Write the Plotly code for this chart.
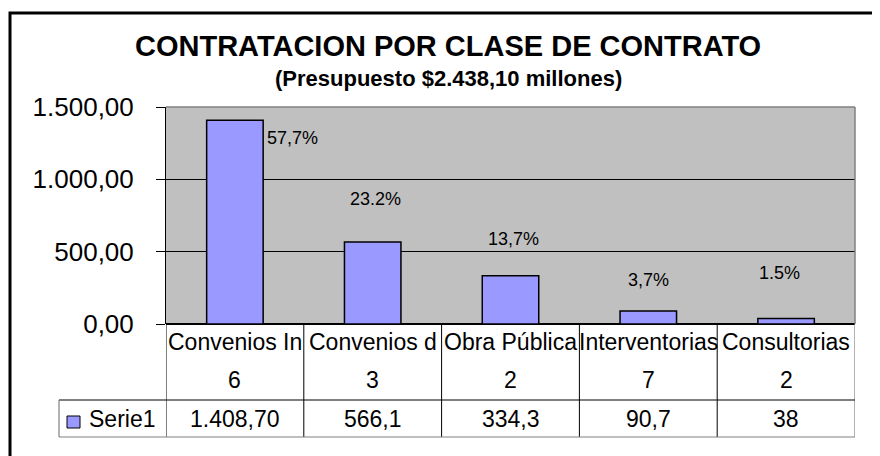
import plotly.graph_objects as go

categories = ["Convenios In", "Convenios d", "Obra Pública", "Interventorias", "Consultorias"]
counts = ["6", "3", "2", "7", "2"]
values = [1408.70, 566.1, 334.3, 90.7, 38]
value_labels = ["1.408,70", "566,1", "334,3", "90,7", "38"]
pct_labels = ["57,7%", "23.2%", "13,7%", "3,7%", "1.5%"]
series_name = "Serie1"
y_tickvals = [0, 500, 1000, 1500]
y_ticktext = ["0,00", "500,00", "1.000,00", "1.500,00"]

FONT = "Liberation Sans, Arial, sans-serif"
OFF = 8  # page body margin
W, H = 880 - OFF, 456 - OFF
L, R, T, B = 166 - OFF, 25, 107 - OFF, 132
PW, PH = W - L - R, H - T - B


def px(x):
    # screen pixel x -> paper
    return (x - OFF - L) / PW


def py(y):
    # screen pixel y -> paper
    return (H - B - (y - OFF)) / PH


x_idx = list(range(len(categories)))

fig = go.Figure()
fig.add_trace(go.Bar(
    x=x_idx, y=values, name=series_name,
    marker=dict(color="#9999FF", line=dict(color="black", width=1.5)),
    width=0.41, showlegend=False, hoverinfo="skip",
))

annotations = []
# title
annotations.append(dict(text="<b>CONTRATACION POR CLASE DE CONTRATO</b>", x=px(448), y=py(46),
                        xref="paper", yref="paper", showarrow=False,
                        font=dict(family=FONT, size=29, color="black"), xanchor="center", yanchor="middle"))
annotations.append(dict(text="<b>(Presupuesto $2.438,10 millones)</b>", x=px(448), y=py(78),
                        xref="paper", yref="paper", showarrow=False,
                        font=dict(family=FONT, size=22, color="black"), xanchor="center", yanchor="middle"))

# percent labels (pixel offsets relative to bar top)
pct_style = [dict(xa="left", dx=0.215, yshift=-18),
             dict(xa="center", dx=0.02, yshift=43),
             dict(xa="center", dx=0.02, yshift=37),
             dict(xa="center", dx=0.0, yshift=31),
             dict(xa="center", dx=-0.05, yshift=46)]
for i, (v, lab) in enumerate(zip(values, pct_labels)):
    s = pct_style[i]
    annotations.append(dict(text=lab, x=i + s["dx"], y=v, xref="x", yref="y", showarrow=False,
                            xanchor=s["xa"], yanchor="middle", yshift=s["yshift"],
                            font=dict(family=FONT, size=18, color="black")))

# data table
for i in x_idx:
    annotations.append(dict(text=categories[i], x=i, y=py(341.5), xref="x", yref="paper",
                            showarrow=False, xanchor="center", yanchor="middle",
                            font=dict(family=FONT, size=23, color="black")))
    annotations.append(dict(text=counts[i], x=i, y=py(380), xref="x", yref="paper",
                            showarrow=False, xanchor="center", yanchor="middle",
                            font=dict(family=FONT, size=23, color="black")))
    annotations.append(dict(text=value_labels[i], x=i, y=py(419), xref="x", yref="paper",
                            showarrow=False, xanchor="center", yanchor="middle",
                            font=dict(family=FONT, size=23, color="black")))
annotations.append(dict(text=series_name, x=px(87), y=py(419), xref="paper", yref="paper",
                        showarrow=False, xanchor="left", yanchor="middle",
                        font=dict(family=FONT, size=23, color="black")))

shapes = []
# outer chart border
shapes.append(dict(type="rect", xref="paper", yref="paper", x0=px(10), x1=px(890), y0=py(470), y1=py(13),
                   line=dict(color="black", width=3), layer="below"))
# plot area top and right border
shapes.append(dict(type="line", xref="paper", yref="paper", x0=0, x1=1, y0=1, y1=1,
                   line=dict(color="#808080", width=1.5)))
shapes.append(dict(type="line", xref="paper", yref="paper", x0=1, x1=1, y0=0, y1=1,
                   line=dict(color="#808080", width=1.5)))
# table lines
for xb in [-0.5, 0.5, 1.5, 2.5, 3.5]:
    shapes.append(dict(type="line", xref="x", yref="paper", x0=xb, x1=xb, y0=py(437), y1=0,
                       line=dict(color="black", width=1)))
shapes.append(dict(type="line", xref="x", yref="paper", x0=4.5, x1=4.5, y0=py(437), y1=0,
                   line=dict(color="#808080", width=1.2)))
shapes.append(dict(type="line", xref="paper", yref="paper", x0=px(59), x1=1, y0=py(400), y1=py(400),
                   line=dict(color="black", width=1)))
shapes.append(dict(type="line", xref="paper", yref="paper", x0=px(59), x1=1, y0=py(437), y1=py(437),
                   line=dict(color="#808080", width=1.2)))
shapes.append(dict(type="line", xref="paper", yref="paper", x0=px(59), x1=px(59), y0=py(437), y1=py(400),
                   line=dict(color="#808080", width=1.2)))
# legend key
shapes.append(dict(type="rect", xref="paper", yref="paper", x0=px(67), x1=px(80), y0=py(428), y1=py(416),
                   fillcolor="#9999FF", line=dict(color="black", width=1)))

fig.update_layout(
    width=W, height=H,
    margin=dict(l=L, r=R, t=T, b=B, pad=0),
    paper_bgcolor="white",
    plot_bgcolor="#C0C0C0",
    showlegend=False,
    bargap=0.59,
    font=dict(family=FONT, color="black"),
    xaxis=dict(range=[-0.5, 4.5], showticklabels=False, ticks="", showgrid=False,
               zeroline=False, showline=False, fixedrange=True),
    yaxis=dict(range=[0, 1500], tickvals=y_tickvals, ticktext=y_ticktext,
               ticks="outside", ticklen=9, tickcolor="black", tickwidth=1,
               ticklabelstandoff=17,
               showline=True, linecolor="black", linewidth=1,
               showgrid=True, gridcolor="black", gridwidth=1,
               zeroline=True, zerolinecolor="black", zerolinewidth=1.5,
               tickfont=dict(family=FONT, size=26, color="black"), fixedrange=True),
    annotations=annotations,
    shapes=shapes,
)

fig.write_html("out.html")
